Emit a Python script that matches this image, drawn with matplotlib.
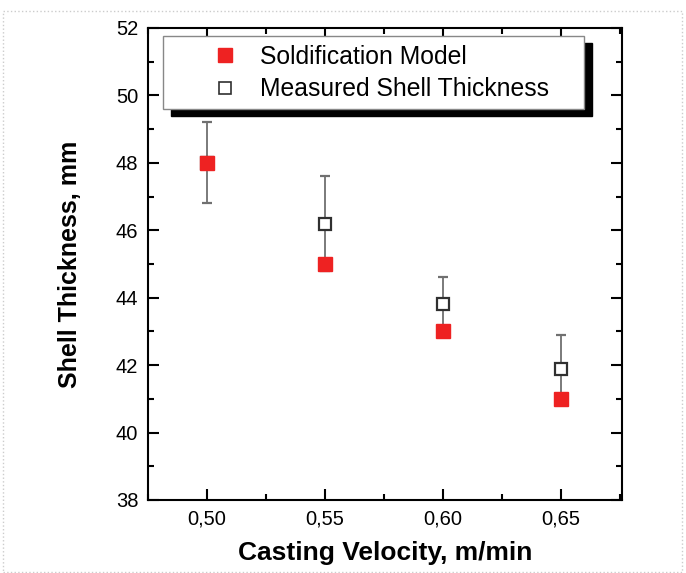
import numpy as np
import matplotlib
matplotlib.use("Agg")
from matplotlib import pyplot as plt
from matplotlib.ticker import MultipleLocator, FuncFormatter
from matplotlib.patches import Rectangle
from matplotlib.lines import Line2D

plt.rcParams['font.family'] = ['Liberation Sans', 'DejaVu Sans']

velocity = [0.50, 0.55, 0.60, 0.65]
model = [48.0, 45.0, 43.0, 41.0]
measured = [48.0, 46.2, 43.8, 41.9]
err_low = [1.2, 1.4, 0.8, 1.0]
err_high = [1.2, 1.4, 0.8, 1.0]

W, H = 686, 573
fig = plt.figure(figsize=(W / 100, H / 100), dpi=100)
# axes box in pixels: x 148..622, y 28..500
ax = fig.add_axes([148 / W, 1 - 500 / H, (622 - 148) / W, (500 - 28) / H])

def px(x, y):
    # pixel position -> axes fraction
    return (x - 148) / 474, 1 - (y - 28) / 472

# dotted frame round the figure
fig.patches.append(Rectangle((0.004, 0.002), 0.99, 0.978, transform=fig.transFigure,
                             fill=False, edgecolor='#cccccc', linestyle=':', linewidth=1))

ax.errorbar(velocity, measured, yerr=[err_low, err_high], fmt='s', color='#707070',
            ecolor='#707070', elinewidth=1.3, capsize=3.8, capthick=1.3,
            markersize=9.2, markerfacecolor='white', markeredgecolor='#303030',
            markeredgewidth=1.6, zorder=2)
ax.plot(velocity, model, 's', color='#ee2222', markersize=10, linestyle='none', zorder=3)

ax.set_xlim(0.475, 0.676)
ax.set_ylim(38, 52)
ax.xaxis.set_major_locator(MultipleLocator(0.05))
ax.xaxis.set_minor_locator(MultipleLocator(0.025))
ax.yaxis.set_major_locator(MultipleLocator(2))
ax.yaxis.set_minor_locator(MultipleLocator(1))
ax.xaxis.set_major_formatter(FuncFormatter(lambda v, p: f"{v:.2f}".replace('.', ',')))
ax.tick_params(which='both', direction='in', top=True, right=True, labelsize=14.5, width=1.5)
ax.tick_params(which='major', length=8, pad=7)
ax.tick_params(which='minor', length=4)
for s in ax.spines.values():
    s.set_linewidth(1.5)

ax.set_xlabel('Casting Velocity, m/min', fontsize=19, fontweight='bold', labelpad=9)
ax.set_ylabel('Shell Thickness, mm', fontsize=18, fontweight='bold', labelpad=24)

# legend box with a hard black shadow
x0, y0 = px(163, 109)
x1, y1 = px(584, 36)
sx0, sy0 = px(171, 116)
ax.add_patch(Rectangle((sx0, sy0), x1 - x0, y1 - y0, transform=ax.transAxes,
                       facecolor='black', edgecolor='black', zorder=6, clip_on=False))
ax.add_patch(Rectangle((x0, y0), x1 - x0, y1 - y0, transform=ax.transAxes,
                       facecolor='white', edgecolor='#888888', linewidth=1, zorder=7,
                       clip_on=False))

handles = [
    Line2D([], [], marker='s', linestyle='none', color='#ee2222', markersize=10),
    Line2D([], [], marker='s', linestyle='none', markerfacecolor='white',
           markeredgecolor='#303030', markeredgewidth=1.2, markersize=9.2),
]
labels = ['Soldification Model', 'Measured Shell Thickness']
fs = 17.8
leg = ax.legend(handles, labels, loc='center left', bbox_to_anchor=px(225 - fs * 100 / 72 / 2, 73),
                fontsize=fs, frameon=False, borderpad=0, borderaxespad=0,
                handlelength=1, handletextpad=0.92, labelspacing=0.36)
leg.set_zorder(8)

fig.savefig('out.png', dpi=100)
